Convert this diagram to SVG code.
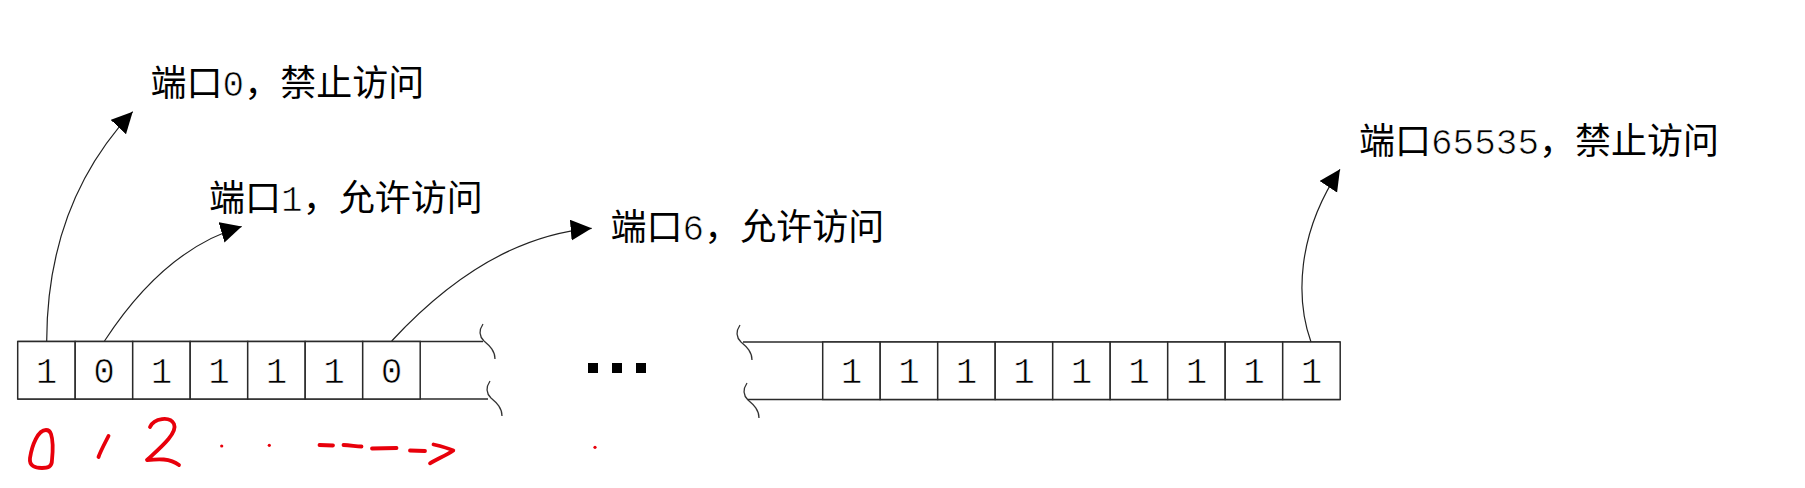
<svg xmlns="http://www.w3.org/2000/svg" width="1805" height="488" viewBox="0 0 1805 488">
  <style>
    .cell { fill: #ffffff; stroke: #2a2a2a; stroke-width: 1.5; }
    .edge { fill: none; stroke: #2a2a2a; stroke-width: 1.5; }
    .brace { fill: none; stroke: #333333; stroke-width: 1.3; }
    .bit { font-family: "Liberation Mono", "DejaVu Sans Mono", monospace; font-size: 36px; fill: #000000; text-anchor: middle; stroke: #ffffff; stroke-width: 0.7px; }
    .label { font-family: "Noto Sans CJK SC", "Noto Sans", sans-serif; font-size: 36px; fill: #000000; }
    .num { font-family: "Liberation Mono", "DejaVu Sans Mono", monospace; stroke: #ffffff; stroke-width: 0.7px; }
    .conn { fill: none; stroke: #222222; stroke-width: 1.2; marker-end: url(#arrow); }
    .ink { fill: none; stroke: #e8000b; stroke-width: 3.8; stroke-linecap: round; stroke-linejoin: round; }
    .inkdot { fill: #e8000b; }
  </style>
  <defs>
    <marker id="arrow" markerUnits="userSpaceOnUse" markerWidth="24" markerHeight="24" refX="21" refY="10.5" orient="auto">
      <path d="M0,0 L21,10.5 L0,21 Z" fill="#000000"/>
    </marker>
  </defs>
  <rect x="0" y="0" width="1805" height="488" fill="#ffffff"/>

  <g id="row-left">
    <line class="edge" x1="17.7" y1="341.5" x2="483" y2="341.5"/>
    <line class="edge" x1="17.7" y1="399" x2="488" y2="399"/>
    <rect class="cell" x="17.7" y="341.5" width="57.5" height="57.5"/>
    <rect class="cell" x="75.2" y="341.5" width="57.5" height="57.5"/>
    <rect class="cell" x="132.7" y="341.5" width="57.5" height="57.5"/>
    <rect class="cell" x="190.2" y="341.5" width="57.5" height="57.5"/>
    <rect class="cell" x="247.7" y="341.5" width="57.5" height="57.5"/>
    <rect class="cell" x="305.2" y="341.5" width="57.5" height="57.5"/>
    <rect class="cell" x="362.7" y="341.5" width="57.5" height="57.5"/>
    <text class="bit" x="46.5" y="382.5">1</text>
    <text class="bit" x="104" y="382.5">0</text>
    <text class="bit" x="161.5" y="382.5">1</text>
    <text class="bit" x="219" y="382.5">1</text>
    <text class="bit" x="276.5" y="382.5">1</text>
    <text class="bit" x="334" y="382.5">1</text>
    <text class="bit" x="391.5" y="382.5">0</text>
    <path class="brace" d="M483,324 c-4,6 -4,12 1,17 c6,5 11,10 11,18"/>
    <path class="brace" d="M490,381 c-4,6 -4,12 1,17 c6,5 11,10 11,18"/>
  </g>

  <g id="ellipsis">
    <rect x="588" y="363" width="10" height="10" fill="#000000"/>
    <rect x="612" y="363" width="10" height="10" fill="#000000"/>
    <rect x="636" y="363" width="10" height="10" fill="#000000"/>
  </g>

  <g id="row-right">
    <line class="edge" x1="743" y1="342" x2="1340.2" y2="342"/>
    <line class="edge" x1="748" y1="399.5" x2="1340.2" y2="399.5"/>
    <rect class="cell" x="822.7" y="342" width="57.5" height="57.5"/>
    <rect class="cell" x="880.2" y="342" width="57.5" height="57.5"/>
    <rect class="cell" x="937.7" y="342" width="57.5" height="57.5"/>
    <rect class="cell" x="995.2" y="342" width="57.5" height="57.5"/>
    <rect class="cell" x="1052.7" y="342" width="57.5" height="57.5"/>
    <rect class="cell" x="1110.2" y="342" width="57.5" height="57.5"/>
    <rect class="cell" x="1167.7" y="342" width="57.5" height="57.5"/>
    <rect class="cell" x="1225.2" y="342" width="57.5" height="57.5"/>
    <rect class="cell" x="1282.7" y="342" width="57.5" height="57.5"/>
    <text class="bit" x="851.5" y="383">1</text>
    <text class="bit" x="909" y="383">1</text>
    <text class="bit" x="966.5" y="383">1</text>
    <text class="bit" x="1024" y="383">1</text>
    <text class="bit" x="1081.5" y="383">1</text>
    <text class="bit" x="1139" y="383">1</text>
    <text class="bit" x="1196.5" y="383">1</text>
    <text class="bit" x="1254" y="383">1</text>
    <text class="bit" x="1311.5" y="383">1</text>
    <path class="brace" d="M740,325 c-4,6 -4,12 1,17 c6,5 11,10 11,18"/>
    <path class="brace" d="M747,383 c-4,6 -4,12 1,17 c6,5 11,10 11,18"/>
  </g>

  <g id="label-port0">
    <text class="label" x="150.5" y="96">端口<tspan class="num">0</tspan>，禁止访问</text>
  </g>
  <g id="label-port1">
    <text class="label" x="209" y="210.5">端口<tspan class="num">1</tspan>，允许访问</text>
  </g>
  <g id="label-port6">
    <text class="label" x="610.5" y="240">端口<tspan class="num">6</tspan>，允许访问</text>
  </g>
  <g id="label-port65535">
    <text class="label" x="1359" y="153.5">端口<tspan class="num">65535</tspan>，禁止访问</text>
  </g>

  <g id="connectors">
    <path class="conn" d="M46.7,341 Q47,203 132.7,111.7"/>
    <path class="conn" d="M104.5,341 Q164.5,249 241.7,226.5"/>
    <path class="conn" d="M391.7,341 Q488,237 591.7,228.3"/>
    <path class="conn" d="M1311,342 C1296,300 1296,235 1340,169.3"/>
  </g>

  <g id="handwriting">
    <path class="ink" d="M46,430 C38,430 32,445 30,458 C29,466 35,468 42,468 C48,468 52,467 52,460 C53,450 53,440 51,434 C50,431 48,430 46,430"/>
    <path class="ink" d="M108.5,436 C105,443 101,450 98.5,457"/>
    <path class="ink" d="M150,427 C154,418 170,416 174,424 C178,433 160,448 147,460 C158,459 170,458 179,465"/>
    <circle class="inkdot" cx="221.7" cy="446" r="1.6"/>
    <circle class="inkdot" cx="269.3" cy="445.3" r="1.6"/>
    <circle class="inkdot" cx="595" cy="447.3" r="1.6"/>
    <path class="ink" d="M319.5,445 L333,445.5"/>
    <path class="ink" d="M343.5,445 C350,445 356,446.5 361.5,446.5"/>
    <path class="ink" d="M372,448.5 L396.5,448"/>
    <path class="ink" d="M410,450.5 L425,451"/>
    <path class="ink" d="M433.5,444.5 C440,446 448,448 453.3,450.5 C447,455 437,459 430,463.3"/>
  </g>
</svg>
